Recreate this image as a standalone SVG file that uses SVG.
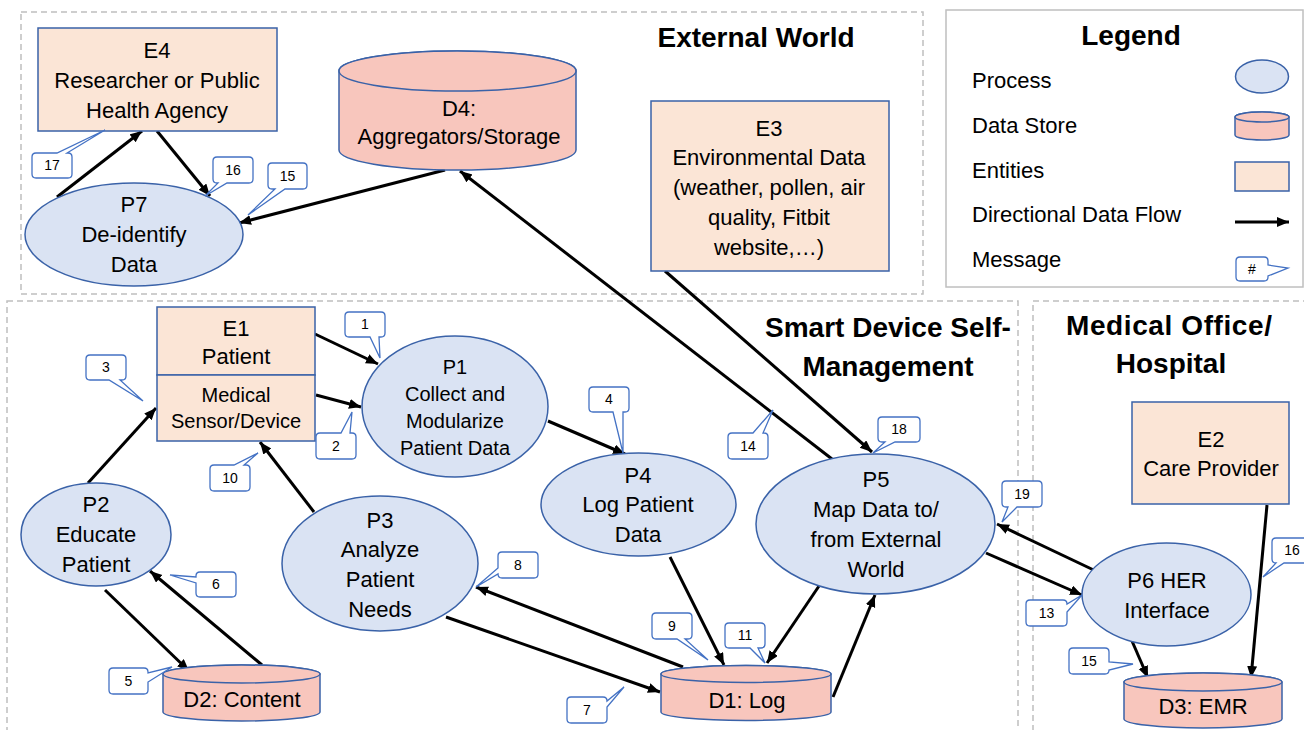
<svg xmlns="http://www.w3.org/2000/svg" width="1304" height="730" viewBox="0 0 1304 730">
<defs>
<marker id="ah" markerUnits="userSpaceOnUse" markerWidth="13" markerHeight="11" refX="12" refY="5" orient="auto">
<path d="M0,0 L12,5 L0,10 Z" fill="#000"/>
</marker>
<style>
.panel{fill:none;stroke:#BFBFBF;stroke-width:1.5;stroke-dasharray:6 4}
.proc{fill:#DAE3F3;stroke:#3A62A8;stroke-width:1.5}
.ent{fill:#FBE5D6;stroke:#3A62A8;stroke-width:1.5}
.store{fill:#F8C6BD;stroke:#3A62A8;stroke-width:1.5}
.msg{fill:#fff;stroke:#4472C4;stroke-width:1.3}
.t{font-family:"Liberation Sans",Arial,sans-serif;font-size:22px;fill:#000;text-anchor:middle}
.s{font-size:20px}
.h{font-family:"Liberation Sans",Arial,sans-serif;font-size:28px;font-weight:bold;fill:#000;text-anchor:middle}
.lg{font-family:"Liberation Sans",Arial,sans-serif;font-size:22px;fill:#000}
.n{font-family:"Liberation Sans",Arial,sans-serif;font-size:14px;fill:#000;text-anchor:middle}
.fl{stroke:#000;stroke-width:3;fill:none;marker-end:url(#ah)}
</style>
</defs>
<rect width="1304" height="730" fill="#fff"/>

<g id="panels">
<rect class="panel" x="21" y="12" width="902" height="282"/>
<rect class="panel" x="7" y="301" width="1011" height="440"/>
<rect class="panel" x="1033" y="301" width="280" height="440"/>
<text class="h" x="756" y="47">External World</text>
<text class="h" x="888" y="337">Smart Device Self-</text>
<text class="h" x="888" y="376">Management</text>
<text class="h" x="1169" y="335" textLength="206">Medical Office/</text>
<text class="h" x="1171" y="373">Hospital</text>
</g>

<g id="legend">
<rect x="946" y="10" width="357" height="277" fill="#fff" stroke="#BFBFBF" stroke-width="1.5"/>
<text class="h" x="1131" y="45">Legend</text>
<text class="lg" x="972" y="88">Process</text>
<text class="lg" x="972" y="133">Data Store</text>
<text class="lg" x="972" y="178">Entities</text>
<text class="lg" x="972" y="222">Directional Data Flow</text>
<text class="lg" x="972" y="267">Message</text>
<ellipse class="proc" cx="1262" cy="76.5" rx="26.5" ry="16.5"/>
<path class="store" d="M1235,117 V135 A27,5 0 0 0 1289,135 V117 A27,5 0 0 0 1235,117 Z"/>
<ellipse class="store" cx="1262" cy="117" rx="27" ry="5"/>
<rect class="ent" x="1235" y="162" width="54" height="29"/>
<line class="fl" x1="1235" y1="222" x2="1289" y2="222"/>
<path class="msg" d="M1240,257 H1264 Q1268,257 1268,261 V265 L1288,268 L1268,276 V277 Q1268,281 1264,281 H1240 Q1236,281 1236,277 V261 Q1236,257 1240,257 Z"/>
<text class="n" x="1252" y="274">#</text>
</g>

<g id="connectors">
<line class="fl" x1="315" y1="334" x2="378" y2="364"/>
<line class="fl" x1="316" y1="395" x2="361" y2="407"/>
<line class="fl" x1="88" y1="483" x2="156" y2="408"/>
<line class="fl" x1="314" y1="512" x2="260" y2="442"/>
<line class="fl" x1="105" y1="590" x2="189" y2="671"/>
<line class="fl" x1="262" y1="665" x2="150" y2="571"/>
<line class="fl" x1="683" y1="667" x2="476" y2="587"/>
<line class="fl" x1="446" y1="617" x2="660" y2="692"/>
<line class="fl" x1="548" y1="421" x2="625" y2="454"/>
<line class="fl" x1="670" y1="557" x2="724" y2="665"/>
<line class="fl" x1="819" y1="586" x2="767" y2="663"/>
<line class="fl" x1="833" y1="697" x2="875" y2="595"/>
<line class="fl" x1="832" y1="459" x2="460" y2="171"/>
<line class="fl" x1="665" y1="271" x2="872" y2="452"/>
<line class="fl" x1="1100" y1="573" x2="997" y2="524"/>
<line class="fl" x1="986" y1="553" x2="1082" y2="595"/>
<line class="fl" x1="1132" y1="641" x2="1148" y2="678"/>
<line class="fl" x1="1267" y1="505" x2="1251" y2="678"/>
<line class="fl" x1="57" y1="197" x2="142" y2="131"/>
<line class="fl" x1="157" y1="131" x2="210" y2="196"/>
<line class="fl" x1="445" y1="170" x2="239" y2="223"/>
</g>

<g id="E4">
<rect class="ent" x="38" y="28" width="239" height="103"/>
<text class="t" x="157" y="58">E4</text>
<text class="t" x="157" y="88">Researcher or Public</text>
<text class="t" x="157" y="118">Health Agency</text>
</g>
<g id="D4">
<path class="store" d="M339,71 V150 A118.5,20 0 0 0 576,150 V71 A118.5,20 0 0 0 339,71 Z"/>
<ellipse class="store" cx="457.5" cy="71" rx="118.5" ry="20"/>
<text class="t" x="459" y="116">D4:</text>
<text class="t" x="459" y="144">Aggregators/Storage</text>
</g>
<g id="E3">
<rect class="ent" x="651" y="101" width="238" height="170"/>
<text class="t" x="769" y="136">E3</text>
<text class="t" x="769" y="165">Environmental Data</text>
<text class="t" x="769" y="195">(weather, pollen, air</text>
<text class="t" x="769" y="225">quality, Fitbit</text>
<text class="t" x="769" y="255">website,…)</text>
</g>
<g id="P7">
<ellipse class="proc" cx="134" cy="234.5" rx="109" ry="51.5"/>
<text class="t" x="134" y="212">P7</text>
<text class="t" x="134" y="242">De-identify</text>
<text class="t" x="134" y="272">Data</text>
</g>
<g id="E1">
<rect class="ent" x="157" y="307" width="158" height="68"/>
<rect class="ent" x="157" y="375" width="158" height="66"/>
<text class="t" x="236" y="336">E1</text>
<text class="t" x="236" y="364">Patient</text>
<text class="t s" x="236" y="402">Medical</text>
<text class="t s" x="236" y="428">Sensor/Device</text>
</g>
<g id="P1">
<ellipse class="proc" cx="455" cy="406.5" rx="93" ry="70.5"/>
<text class="t s" x="455" y="374">P1</text>
<text class="t s" x="455" y="401">Collect and</text>
<text class="t s" x="455" y="428">Modularize</text>
<text class="t s" x="455" y="455">Patient Data</text>
</g>
<g id="P2">
<ellipse class="proc" cx="96" cy="534.5" rx="75" ry="51.5"/>
<text class="t" x="96" y="512">P2</text>
<text class="t" x="96" y="542">Educate</text>
<text class="t" x="96" y="572">Patient</text>
</g>
<g id="P3">
<ellipse class="proc" cx="380" cy="563.5" rx="98" ry="67.5"/>
<text class="t" x="380" y="528">P3</text>
<text class="t" x="380" y="557">Analyze</text>
<text class="t" x="380" y="587">Patient</text>
<text class="t" x="380" y="617">Needs</text>
</g>
<g id="D2">
<path class="store" d="M163,674 V712 A78.5,9 0 0 0 320,712 V674 A78.5,9 0 0 0 163,674 Z"/>
<ellipse class="store" cx="241.5" cy="674" rx="78.5" ry="9"/>
<text class="t" x="242" y="707">D2: Content</text>
</g>
<g id="P4">
<ellipse class="proc" cx="638.5" cy="504.5" rx="97.5" ry="51.5"/>
<text class="t" x="638" y="483">P4</text>
<text class="t" x="638" y="512">Log Patient</text>
<text class="t" x="638" y="542">Data</text>
</g>
<g id="D1">
<path class="store" d="M661,674 V712 A85,8.5 0 0 0 831,712 V674 A85,8.5 0 0 0 661,674 Z"/>
<ellipse class="store" cx="746" cy="674" rx="85" ry="8.5"/>
<text class="t" x="747" y="708">D1: Log</text>
</g>
<g id="P5">
<ellipse class="proc" cx="875.5" cy="524" rx="119.5" ry="70"/>
<text class="t" x="876" y="487">P5</text>
<text class="t" x="876" y="517">Map Data to/</text>
<text class="t" x="876" y="547">from External</text>
<text class="t" x="876" y="577">World</text>
</g>
<g id="E2">
<rect class="ent" x="1132" y="402" width="157" height="102"/>
<text class="t" x="1211" y="447">E2</text>
<text class="t" x="1211" y="476">Care Provider</text>
</g>
<g id="P6">
<ellipse class="proc" cx="1166.5" cy="594.5" rx="84.5" ry="51.5"/>
<text class="t" x="1167" y="588">P6 HER</text>
<text class="t" x="1167" y="618">Interface</text>
</g>
<g id="D3">
<path class="store" d="M1124,682 V719 A79,9 0 0 0 1282,719 V682 A79,9 0 0 0 1124,682 Z"/>
<ellipse class="store" cx="1203" cy="682" rx="79" ry="9"/>
<text class="t" x="1203" y="714">D3: EMR</text>
</g>

<g id="messages">
<path class="msg" d="M36,153 H57 L105,130 L67,153 H68 Q72,153 72,157 V174 Q72,178 68,178 H36 Q32,178 32,174 V157 Q32,153 36,153 Z"/>
<text class="n" x="52" y="170">17</text>
<path class="msg" d="M217,157 H249 Q253,157 253,161 V179 Q253,183 249,183 H227 L205,196 L218,183 H217 Q213,183 213,179 V161 Q213,157 217,157 Z"/>
<text class="n" x="233" y="175">16</text>
<path class="msg" d="M272,163 H303 Q307,163 307,167 V185 Q307,189 303,189 H285 L248,215 L275,189 H272 Q268,189 268,185 V167 Q268,163 272,163 Z"/>
<text class="n" x="287.5" y="181">15</text>
<path class="msg" d="M349,312 H381 Q385,312 385,316 V333 Q385,337 381,337 H379 L380,358 L370,337 H349 Q345,337 345,333 V316 Q345,312 349,312 Z"/>
<text class="n" x="365" y="329">1</text>
<path class="msg" d="M320,433 H341 L352,412 L350,433 H352 Q356,433 356,437 V455 Q356,459 352,459 H320 Q316,459 316,455 V437 Q316,433 320,433 Z"/>
<text class="n" x="336" y="451">2</text>
<path class="msg" d="M90,355 H122 Q126,355 126,359 V376 Q126,380 122,380 H120 L143,401 L109,380 H90 Q86,380 86,376 V359 Q86,355 90,355 Z"/>
<text class="n" x="106" y="372">3</text>
<path class="msg" d="M214,465 H234 L258,453 L244,465 H246 Q250,465 250,469 V487 Q250,491 246,491 H214 Q210,491 210,487 V469 Q210,465 214,465 Z"/>
<text class="n" x="230" y="483">10</text>
<path class="msg" d="M200,572 H232 Q236,572 236,576 V593 Q236,597 232,597 H200 Q196,597 196,593 V583 L170,575 L196,577 V576 Q196,572 200,572 Z"/>
<text class="n" x="216" y="589">6</text>
<path class="msg" d="M113,668 H144 Q148,668 148,672 V673 L172,667 L148,682 V690 Q148,694 144,694 H113 Q109,694 109,690 V672 Q109,668 113,668 Z"/>
<text class="n" x="128.5" y="686">5</text>
<path class="msg" d="M502,552 H534 Q538,552 538,556 V574 Q538,578 534,578 H502 Q498,578 498,574 L476,587 L498,568 V556 Q498,552 502,552 Z"/>
<text class="n" x="518" y="570">8</text>
<path class="msg" d="M593,387 H625 Q629,387 629,391 V408 Q629,412 625,412 H623 L623,453 L613,412 H593 Q589,412 589,408 V391 Q589,387 593,387 Z"/>
<text class="n" x="609" y="404">4</text>
<path class="msg" d="M732,433 H753 L773,410 L763,433 H764 Q768,433 768,437 V455 Q768,459 764,459 H732 Q728,459 728,455 V437 Q728,433 732,433 Z"/>
<text class="n" x="748" y="451">14</text>
<path class="msg" d="M882,417 H916 Q920,417 920,421 V438 Q920,442 916,442 H895 L873,453 L885,442 H882 Q878,442 878,438 V421 Q878,417 882,417 Z"/>
<text class="n" x="899" y="434">18</text>
<path class="msg" d="M656,613 H688 Q692,613 692,617 V635 Q692,639 688,639 H685 L708,660 L677,639 H656 Q652,639 652,635 V617 Q652,613 656,613 Z"/>
<text class="n" x="672" y="631">9</text>
<path class="msg" d="M729,623 H761 Q765,623 765,627 V644 Q765,648 761,648 H758 L765,663 L750,648 H729 Q725,648 725,644 V627 Q725,623 729,623 Z"/>
<text class="n" x="745" y="640">11</text>
<path class="msg" d="M571,697 H603 Q607,697 607,701 L624,687 L607,707 V719 Q607,723 603,723 H571 Q567,723 567,719 V701 Q567,697 571,697 Z"/>
<text class="n" x="587" y="715">7</text>
<path class="msg" d="M1006,481 H1038 Q1042,481 1042,485 V503 Q1042,507 1038,507 H1017 L1002,522 L1008,507 H1006 Q1002,507 1002,503 V485 Q1002,481 1006,481 Z"/>
<text class="n" x="1022" y="499">19</text>
<path class="msg" d="M1030,600 H1063 Q1067,600 1067,604 L1082,595 L1067,612 V622 Q1067,626 1063,626 H1030 Q1026,626 1026,622 V604 Q1026,600 1030,600 Z"/>
<text class="n" x="1046.5" y="618">13</text>
<path class="msg" d="M1276,538 H1312 Q1316,538 1316,542 V559 Q1316,563 1312,563 H1284 L1263,577 L1276,563 Q1272,563 1272,559 V542 Q1272,538 1276,538 Z"/>
<text class="n" x="1292" y="555">16</text>
<path class="msg" d="M1073,648 H1105 Q1109,648 1109,652 V662 L1133,664 L1109,670 Q1109,674 1105,674 H1073 Q1069,674 1069,670 V652 Q1069,648 1073,648 Z"/>
<text class="n" x="1089" y="666">15</text>
</g>
</svg>
